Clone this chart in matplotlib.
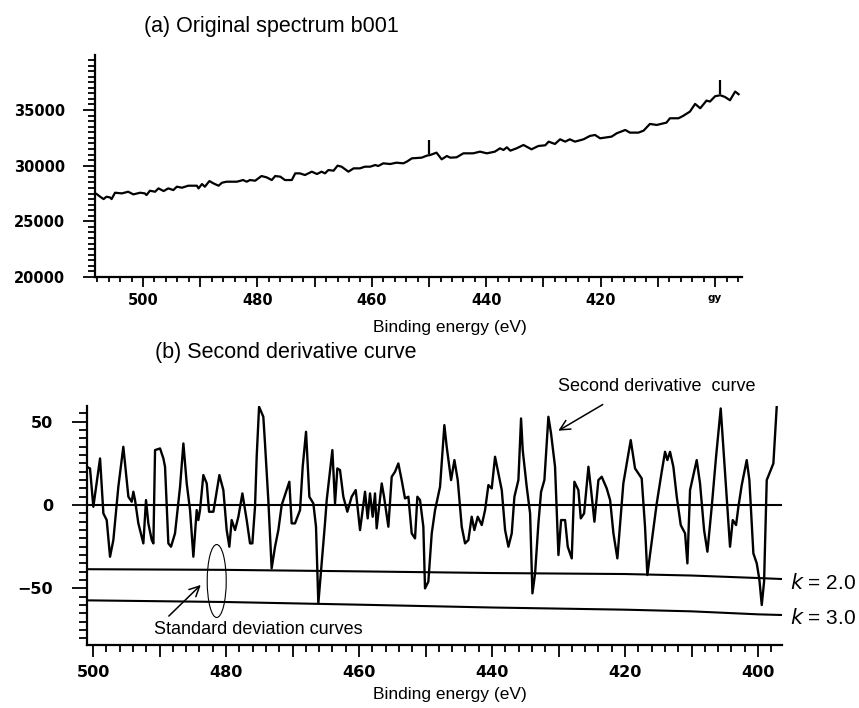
import matplotlib
matplotlib.use("Agg")
import matplotlib.pyplot as plt
from matplotlib.patches import Ellipse
from matplotlib.ticker import MultipleLocator
from matplotlib.font_manager import FontProperties
import numpy as np

# (a) original spectrum
spec_energy = [508.1, 507.5, 506.9, 506.4, 505.8, 505.5, 504.9, 503.7, 502.6, 501.7,
               500.5, 499.7, 499.4, 498.8, 497.9, 497.3, 496.4, 495.6, 494.7, 494.1,
               493.2, 492.1, 490.6, 490.3, 489.7, 489.2, 488.4, 487.7, 486.8, 486.2,
               485.4, 484.8, 483.6, 482.5, 481.9, 481.3, 480.4, 479.3, 478.4, 477.5,
               476.9, 476.0, 475.2, 474.0, 473.4, 472.6, 471.7, 470.5, 469.6, 468.8,
               468.2, 467.6, 466.7, 466.0, 465.3, 464.1, 463.2, 462.1, 461.2, 460.3,
               459.4, 458.9, 458.0, 456.8, 455.7, 454.5, 453.9, 453.0, 451.3, 450.4,
               449.8, 448.7, 447.8, 446.9, 446.3, 445.2, 444.0, 442.3, 441.1, 439.9,
               438.5, 437.6, 437.0, 436.4, 435.8, 434.7, 433.5, 432.1, 430.9, 429.7,
               429.1, 428.0, 427.1, 426.2, 425.4, 424.5, 423.0, 421.9, 421.0, 420.1,
               418.1, 417.2, 415.7, 414.9, 413.4, 412.5, 411.4, 410.2, 408.5, 407.9,
               406.4, 405.6, 404.4, 403.5, 402.6, 401.5, 400.9, 400.0, 399.1, 398.3,
               397.4, 396.5, 395.9]
spec_counts = [27450, 27210, 27000, 27210, 27150, 27000, 27570, 27510, 27660, 27420,
               27570, 27510, 27360, 27750, 27660, 27960, 27720, 27960, 27810, 28110,
               28020, 28200, 28200, 27960, 28350, 28110, 28620, 28410, 28200, 28470,
               28560, 28560, 28560, 28710, 28560, 28710, 28650, 29070, 28950, 28710,
               29070, 29010, 28710, 28710, 29310, 29310, 29160, 29460, 29250, 29460,
               29310, 29610, 29550, 30000, 29910, 29460, 29760, 29760, 29910, 29910,
               30060, 29970, 30210, 30150, 30270, 30210, 30360, 30660, 30720, 30900,
               30960, 31170, 30570, 30870, 30720, 30750, 31110, 31110, 31260, 31110,
               31260, 31560, 31410, 31650, 31350, 31560, 31860, 31470, 31770, 31830,
               32160, 31950, 32370, 32160, 32370, 32160, 32370, 32670, 32760, 32460,
               32610, 32910, 33210, 32970, 32970, 33150, 33750, 33660, 33870, 34260,
               34260, 34470, 34860, 35550, 35160, 35850, 35760, 36240, 36330, 36180,
               35880, 36660, 36420]
peak_energy = [450.0, 399.1]

# (b) second derivative curve
d2_energy = [500.95, 500.45, 499.95, 498.94, 498.44, 497.94, 497.44, 496.94, 496.19, 495.44,
             494.68, 494.18, 493.93, 493.68, 493.18, 492.43, 492.03, 491.68, 491.17, 490.92,
             490.67, 489.92, 489.42, 489.17, 488.67, 488.27, 487.67, 486.91, 486.41, 485.91,
             485.41, 484.91, 484.41, 484.16, 483.91, 483.41, 482.90, 482.55, 481.90, 481.00,
             480.40, 479.90, 479.50, 479.15, 478.64, 478.14, 477.54, 476.89, 476.39, 476.04,
             475.64, 475.39, 475.03, 474.39, 474.14, 473.64, 473.14, 472.63, 472.13, 471.63,
             470.88, 470.48, 470.13, 469.63, 468.87, 468.47, 467.97, 467.47, 466.87, 466.47,
             466.12, 465.62, 465.12, 464.86, 464.36, 464.01, 463.61, 463.26, 462.86, 462.36,
             461.76, 461.11, 460.50, 459.85, 459.10, 458.70, 458.35, 457.95, 457.60, 457.35,
             456.59, 456.24, 455.59, 455.09, 454.59, 454.09, 453.59, 453.09, 452.58, 452.08,
             451.58, 451.23, 450.83, 450.33, 450.08, 449.58, 449.07, 448.57, 447.82, 447.17,
             446.82, 446.16, 445.66, 445.16, 444.56, 444.06, 443.56, 443.06, 442.66, 442.15,
             441.55, 441.05, 440.55, 440.05, 439.55, 439.05, 438.54, 438.04, 437.54, 437.04,
             436.64, 436.04, 435.64, 435.39, 434.79, 434.28, 433.93, 433.53, 433.03, 432.63,
             432.13, 431.53, 431.13, 430.53, 430.02, 429.62, 429.02, 428.62, 428.02, 427.62,
             427.02, 426.66, 426.16, 425.51, 425.11, 424.61, 424.01, 423.51, 422.76, 422.25,
             421.75, 421.16, 420.26, 419.15, 418.50, 417.50, 417.00, 416.65, 416.03, 415.24,
             414.49, 413.99, 413.64, 413.24, 412.74, 412.23, 411.63, 410.98, 410.63, 410.23,
             409.23, 408.73, 408.12, 407.62, 406.97, 406.32, 405.62, 405.32, 404.72, 404.22,
             403.81, 403.31, 402.96, 402.46, 401.71, 401.31, 400.71, 400.20, 399.80, 399.45,
             399.10, 398.70, 397.70, 397.20]
d2_value = [23, 22, -1, 28, -5, -9, -31, -21, 11, 35,
            5, 2, 8, 3, -11, -23, 3, -11, -21, -23,
            33, 34, 28, 23, -23, -25, -17, 11, 37, 13,
            -3, -31, -3, -9, -3, 18, 13, -4, -4, 18,
            9, -15, -25, -9, -15, -7, 7, -9, -23, -23,
            -1, 29, 59, 53, 37, 3, -38, -25, -15, 0,
            9, 14, -11, -11, -3, 23, 44, 5, 1, -13,
            -59, -35, -11, 3, 21, 33, 1, 22, 21, 5,
            -4, 5, 9, -15, 8, -8, 7, -7, 7, -14,
            13, 5, -13, 17, 20, 25, 15, 4, 5, -17,
            -20, 5, 3, -13, -50, -46, -17, -3, 11, 48,
            35, 15, 27, 15, -13, -23, -21, -7, -15, -7,
            -12, -3, 12, 10, 29, 19, 9, -15, -25, -17,
            5, 15, 52, 33, 11, -5, -53, -41, -11, 8,
            15, 53, 43, 23, -30, -9, -9, -25, -32, 14,
            9, -8, -5, 23, 9, -10, 15, 17, 10, 3,
            -17, -32, 13, 39, 22, 16, -13, -42, -23, 1,
            20, 32, 27, 32, 23, 5, -12, -17, -35, 9,
            27, 13, -15, -28, -1, 29, 58, 40, 3, -25,
            -9, -12, -1, 12, 27, 15, -29, -35, -45, -60,
            -46, 15, 25, 59]

sd_energy = [500.9, 480, 460, 440, 420, 410, 400, 396.4]
sd_k2 = [-38.5, -38.9, -39.8, -40.8, -41.4, -42.3, -43.8, -44.4]
sd_k3 = [-57.2, -58.2, -59.8, -61.5, -62.8, -63.8, -65.6, -66.0]

# ticks every 10 eV, labels every 20 eV
xticks = [500, 490, 480, 470, 460, 450, 440, 430, 420, 410, 400]
top_xticklabels = ['500', '', '480', '', '460', '', '440', '', '420', '', 'gy']
bot_xticklabels = ['500', '', '480', '', '460', '', '440', '', '420', '', '400']
top_yticks = [20000, 25000, 30000, 35000]
bot_yticks = [-50, 0, 50]

sans = 'Liberation Sans'

fig = plt.figure(figsize=(8.59, 7.08), dpi=100)


def style_axes(ax, size):
    for side in ('top', 'right'):
        ax.spines[side].set_visible(False)
    for side in ('left', 'bottom'):
        ax.spines[side].set_linewidth(1.6)
    ax.tick_params(which='both', direction='out', width=1.3)
    fp = FontProperties(family='DejaVu Sans', weight='bold', size=size)
    for lab in ax.get_xticklabels() + ax.get_yticklabels():
        lab.set_fontproperties(fp)


# ---- (a) original spectrum
ax1 = fig.add_axes((0.1106, 0.6088, 0.7532, 0.3136))
ax1.plot(spec_energy, spec_counts, color='black', lw=1.6)
for pe in peak_energy:
    base = np.interp(pe, spec_energy[::-1], spec_counts[::-1])
    ax1.vlines(pe, base + 150, base + 1350, color='black', lw=1.6)
ax1.set_xlim(508.4, 395.3)
ax1.set_ylim(20000, 39950)
ax1.set_xticks(xticks)
ax1.set_xticklabels(top_xticklabels)
ax1.xaxis.set_minor_locator(MultipleLocator(2))
ax1.set_yticks(top_yticks)
ax1.yaxis.set_minor_locator(MultipleLocator(500))
style_axes(ax1, 10.5)
ax1.tick_params(axis='y', which='major', length=8.6, pad=13)
ax1.tick_params(axis='y', which='minor', length=5)
ax1.tick_params(axis='x', which='major', length=7.2, pad=4)
ax1.tick_params(axis='x', which='minor', length=3.6)
ax1.get_xticklabels()[-1].set_fontsize(7.5)

# ---- (b) second derivative
ax2 = fig.add_axes((0.1013, 0.0890, 0.8091, 0.3376))
ax2.axhline(0, color='black', lw=1.5)
ax2.plot(sd_energy, sd_k2, color='black', lw=1.5)
ax2.plot(sd_energy, sd_k3, color='black', lw=1.5)
ax2.plot(d2_energy, d2_value, color='black', lw=1.7)
ax2.set_xlim(500.9, 396.4)
ax2.set_ylim(-84, 59.5)
ax2.set_xticks(xticks)
ax2.set_xticklabels(bot_xticklabels)
ax2.xaxis.set_minor_locator(MultipleLocator(2))
ax2.set_yticks(bot_yticks)
ax2.yaxis.set_minor_locator(MultipleLocator(5))
style_axes(ax2, 11.5)
ax2.tick_params(axis='y', which='major', length=10.8, pad=13.5)
ax2.tick_params(axis='y', which='minor', length=5.8)
ax2.tick_params(axis='x', which='major', length=8.6, pad=5.5)
ax2.tick_params(axis='x', which='minor', length=5)

ax2.add_patch(Ellipse((481.4, -45.6), 2.86, 43.8, fill=False, lw=0.8, color='black'))
ax2.annotate('', xy=(483.5, -46.8), xytext=(488.9, -67.8),
             arrowprops=dict(arrowstyle='->', lw=1.1, color='black', mutation_scale=18),
             annotation_clip=False)
ax2.annotate('', xy=(430.4, 43.8), xytext=(423.0, 61.2),
             arrowprops=dict(arrowstyle='->', lw=1.1, color='black', mutation_scale=18),
             annotation_clip=False)

# ---- texts
fig.text(0.3155, 0.9619, '(a) Original spectrum b001', ha='center', va='center',
         family=sans, fontsize=15.5)
fig.text(0.5239, 0.5381, 'Binding energy (eV)', ha='center', va='center',
         family=sans, fontsize=12.5)
fig.text(0.3330, 0.5028, '(b) Second derivative curve', ha='center', va='center',
         family=sans, fontsize=15.5)
fig.text(0.5239, 0.0184, 'Binding energy (eV)', ha='center', va='center',
         family=sans, fontsize=12.5)
fig.text(0.7648, 0.4548, 'Second derivative  curve', ha='center', va='center',
         family=sans, fontsize=13)
fig.text(0.3003, 0.1102, 'Standard deviation curves', ha='center', va='center',
         family=sans, fontsize=13)
fig.text(0.9197, 0.1766, '$k$ = 2.0', ha='left', va='center',
         family=sans, fontsize=15)
fig.text(0.9197, 0.1271, '$k$ = 3.0', ha='left', va='center',
         family=sans, fontsize=15)

fig.savefig('out.png', dpi=100)
